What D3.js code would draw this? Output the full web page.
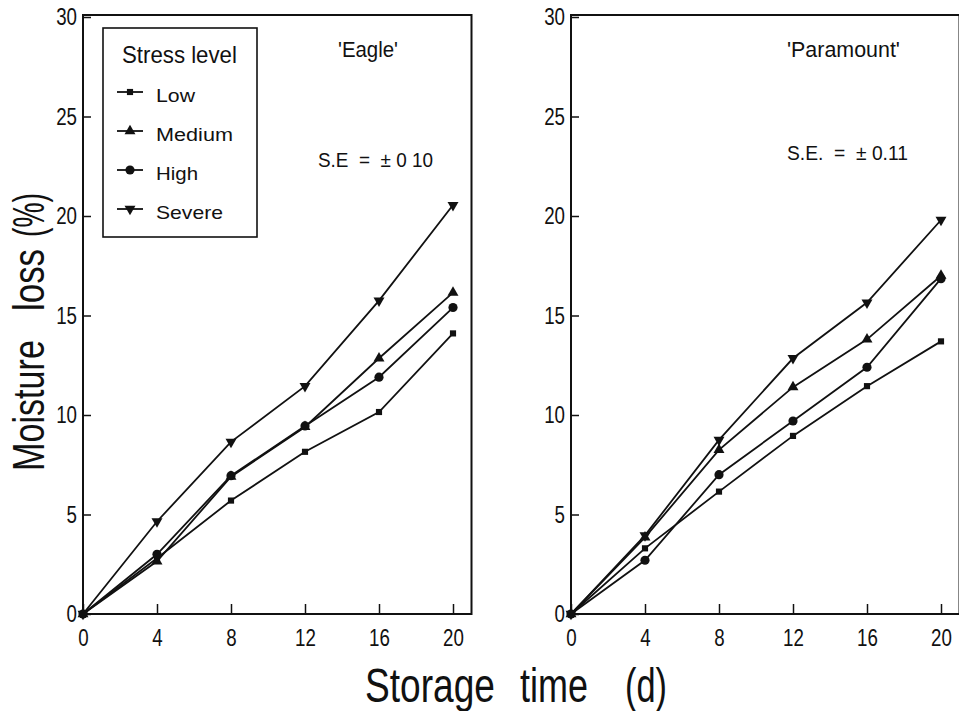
<!DOCTYPE html>
<html>
<head>
<meta charset="utf-8">
<script src="https://cdn.jsdelivr.net/npm/d3@7"></script>
<style>
  html, body { margin: 0; padding: 0; background: #fff; }
  svg { display: block; }
  text { font-family: "Liberation Sans", Arial, sans-serif; fill: #111; }
</style>
</head>
<body>
<svg id="chart" width="959" height="711"></svg>
<script>
// ---------- data ----------
const days = [0, 4, 8, 12, 16, 20];
const levels = ["Low", "Medium", "High", "Severe"];
const xTicks = [0, 4, 8, 12, 16, 20];
const yTicks = [0, 5, 10, 15, 20, 25, 30];

const eagleLow    = [0, 2.8, 5.7, 8.15, 10.15, 14.1];
const eagleMedium = [0, 2.65, 6.9, 9.4, 12.85, 16.15];
const eagleHigh   = [0, 3.0, 6.95, 9.45, 11.9, 15.4];
const eagleSevere = [0, 4.65, 8.65, 11.45, 15.75, 20.55];

const paraLow    = [0, 3.3, 6.15, 8.95, 11.45, 13.7];
const paraMedium = [0, 3.85, 8.25, 11.4, 13.8, 17.0];
const paraHigh   = [0, 2.7, 7.0, 9.7, 12.4, 16.85];
const paraSevere = [0, 3.95, 8.75, 12.85, 15.65, 19.8];

const panels = [
  { title: "'Eagle'", se: "S.E  =  \u00B1 0 10", series: [eagleLow, eagleMedium, eagleHigh, eagleSevere] },
  { title: "'Paramount'", se: "S.E.  =  \u00B1 0.11", series: [paraLow, paraMedium, paraHigh, paraSevere] }
];

// ---------- layout ----------
const svg = d3.select("#chart");
const y = d3.scaleLinear().domain([0, 30]).range([614, 17]);
const panelLeft = [83, 571];
const unitX = 18.5;

const symbols = [
  { type: d3.symbolSquare, size: 38, rot: 0 },
  { type: d3.symbolTriangle, size: 52, rot: 0 },
  { type: d3.symbolCircle, size: 66, rot: 0 },
  { type: d3.symbolTriangle, size: 52, rot: 180 }
];

// horizontally squeeze text around its anchor point (x attr), by factor
function squeeze(sel, factor) {
  sel.each(function () {
    const ax = +(this.getAttribute("x") || 0);
    d3.select(this).attr("transform", `translate(${ax},0) scale(${factor},1) translate(${-ax},0)`);
  });
}
// place a text at (x,y) (optional rotation), scaled so its width equals len
function fitText(parent, str, x, yy, size, len, rot) {
  const t = parent.append("text").attr("font-size", size).style("white-space", "pre").text(str);
  const nat = t.node().getComputedTextLength();
  const s = len / nat;
  t.attr("transform", `translate(${x},${yy})${rot ? " rotate(" + rot + ")" : ""} scale(${s},1)`);
  return t;
}

const textPos = [
  { titleX: 338, titleLen: 60, seX: 318, seY: 167, seLen: 115 },
  { titleX: 787, titleLen: 113, seX: 787, seY: 160, seLen: 121 }
];

panels.forEach((p, pi) => {
  const x0 = panelLeft[pi];
  const x = d3.scaleLinear().domain([0, 21]).range([x0, x0 + 21 * unitX]);
  const g = svg.append("g");

  // frame
  g.append("path")
    .attr("d", `M${x(0)},${y(0)} V${y(30) - 2} H${x(21)} V${y(0)} Z`)
    .attr("fill", "none").attr("stroke", "#111").attr("stroke-width", 2);

  // axes
  const xa = g.append("g").attr("transform", `translate(0,${y(0)})`)
    .call(d3.axisBottom(x).tickValues(xTicks).tickSize(-10).tickPadding(15));
  xa.select(".domain").remove();
  xa.selectAll("line").attr("stroke", "#111").attr("stroke-width", 1.5);
  xa.selectAll("text").attr("font-size", 24).attr("fill", "#111")
    .attr("font-family", "Liberation Sans, Arial, sans-serif");
  squeeze(xa.selectAll("text"), 0.78);

  const ya = g.append("g").attr("transform", `translate(${x(0)},0)`)
    .call(d3.axisLeft(y).tickValues(yTicks).tickSize(-8).tickPadding(6));
  ya.select(".domain").remove();
  ya.selectAll("line").attr("stroke", "#111").attr("stroke-width", 1.5);
  ya.selectAll("text").attr("font-size", 24).attr("fill", "#111")
    .attr("font-family", "Liberation Sans, Arial, sans-serif");
  squeeze(ya.selectAll("text"), 0.78);

  // lines
  const line = d3.line().x((d, i) => x(days[i])).y(d => y(d));
  p.series.forEach((s) => {
    g.append("path").datum(s).attr("d", line)
      .attr("fill", "none").attr("stroke", "#111").attr("stroke-width", 1.8);
  });
  p.series.forEach((s, si) => {
    const sym = symbols[si];
    g.selectAll(null).data(s).enter().append("path")
      .attr("d", d3.symbol().type(sym.type).size(sym.size))
      .attr("transform", (d, i) => `translate(${x(days[i])},${y(d)}) rotate(${sym.rot})`)
      .attr("fill", "#111");
  });

  // annotations
  const tp = textPos[pi];
  fitText(g, p.title, tp.titleX, 57, 22, tp.titleLen);
  fitText(g, p.se, tp.seX, tp.seY, 20, tp.seLen);
});

// ---------- legend ----------
const lg = svg.append("g");
lg.append("rect").attr("x", 103).attr("y", 28).attr("width", 154).attr("height", 209)
  .attr("fill", "#fff").attr("stroke", "#111").attr("stroke-width", 1.6);
fitText(lg, "Stress level", 122, 63, 23, 115);
const legLens = [39, 77, 42, 67];
levels.forEach((name, i) => {
  const cy = 92 + i * 39;
  lg.append("line").attr("x1", 117).attr("x2", 143).attr("y1", cy).attr("y2", cy)
    .attr("stroke", "#111").attr("stroke-width", 1.8);
  const sym = symbols[i];
  lg.append("path").attr("d", d3.symbol().type(sym.type).size(sym.size))
    .attr("transform", `translate(130,${cy}) rotate(${sym.rot})`).attr("fill", "#111");
  fitText(lg, name, 156, cy + 10, 19, legLens[i]);
});

// ---------- axis titles ----------
[["Storage", 365, 130], ["time", 520, 68], ["(d)", 625, 42]].forEach(([t, xx, len]) => {
  fitText(svg, t, xx, 702, 49, len);
});
[["Moisture", 471, 131], ["loss", 311, 62], ["(%)", 237, 44]].forEach(([t, yy, len]) => {
  fitText(svg, t, 44, yy, 44, len, -90);
});
</script>
</body>
</html>
